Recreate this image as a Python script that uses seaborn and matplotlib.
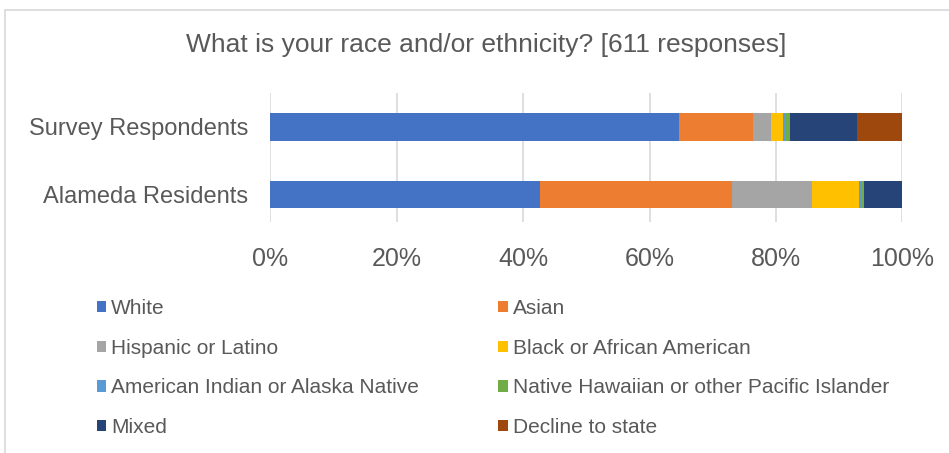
import matplotlib
matplotlib.use("Agg")
import matplotlib.pyplot as plt
from matplotlib.patches import Patch
from matplotlib.lines import Line2D
import seaborn as sns
import pandas as pd
import numpy as np

groups = ["Survey Respondents", "Alameda Residents"]
races = ["White", "Asian", "Hispanic or Latino", "Black or African American",
         "American Indian or Alaska Native", "Native Hawaiian or other Pacific Islander",
         "Mixed", "Decline to state"]
survey = [64.6, 11.7, 2.9, 1.85, 0.4, 0.7, 10.7, 7.1]
alameda = [42.7, 30.3, 12.7, 7.5, 0.3, 0.4, 6.2, 0.0]
colors = ["#4472C4", "#ED7D31", "#A5A5A5", "#FFC000",
          "#5B9BD5", "#70AD47", "#264478", "#9E480E"]
xticks = [0, 20, 40, 60, 80, 100]
xticklabels = ["0%", "20%", "40%", "60%", "80%", "100%"]
title = "What is your race and/or ethnicity? [611 responses]"

sns.set_theme(style="white")
plt.rcParams['font.family'] = ['Liberation Sans', 'DejaVu Sans']
txt = "#595959"

fig = plt.figure(figsize=(9.49, 4.53), dpi=100)
ax = fig.add_axes([270.4/949, 1-222/453, (902.3-270.4)/949, (222-93)/453])

rows = []
for g, vals in zip(groups, [survey, alameda]):
    cum = np.cumsum(vals)
    for r, c in zip(races, cum):
        rows.append({"group": g, "race": r, "cum": c})
df = pd.DataFrame(rows)

for r, col in reversed(list(zip(races, colors))):
    sub = df[df.race == r]
    sns.barplot(data=sub, x="cum", y="group", order=groups, color=col,
                width=0.4, linewidth=0, saturation=1, ax=ax, zorder=3)

ax.set_xlim(0, 100)
ax.set_ylim(1.4, -0.5)
ax.set_xticks(xticks)
ax.set_xticklabels(xticklabels)
ax.grid(axis="x", color="#D9D9D9", linewidth=1.2, zorder=0)
ax.set_axisbelow(True)
for s in ax.spines.values():
    s.set_visible(False)
ax.tick_params(axis="x", length=0, pad=18, labelsize=18, labelcolor=txt)
ax.tick_params(axis="y", length=0, pad=16, labelsize=17, labelcolor=txt)
ax.set_xlabel("")
ax.set_ylabel("")

fig.text(486/949, 1-45/453, title, ha="center", va="center", fontsize=19, color=txt)

handles = [Patch(facecolor=c, edgecolor="none") for c in colors]
order = [0, 2, 4, 6, 1, 3, 5, 7]
fig.legend([handles[i] for i in order], [races[i] for i in order], ncol=2,
           loc="upper left", bbox_to_anchor=(78/949, 1-280/453), frameon=False,
           fontsize=15, labelcolor=txt, handlelength=0.45, handleheight=0.45,
           handletextpad=0.25, labelspacing=1.0, columnspacing=3.8)

# chart border lines (partial frame)
fig.add_artist(Line2D([5/949, 5/949], [0, 1-10/453], transform=fig.transFigure,
                      color="#D9D9D9", linewidth=1.2))
fig.add_artist(Line2D([5/949, 1], [1-10/453, 1-10/453], transform=fig.transFigure,
                      color="#D9D9D9", linewidth=1.2))

fig.savefig("out.png", dpi=100, facecolor="white")
